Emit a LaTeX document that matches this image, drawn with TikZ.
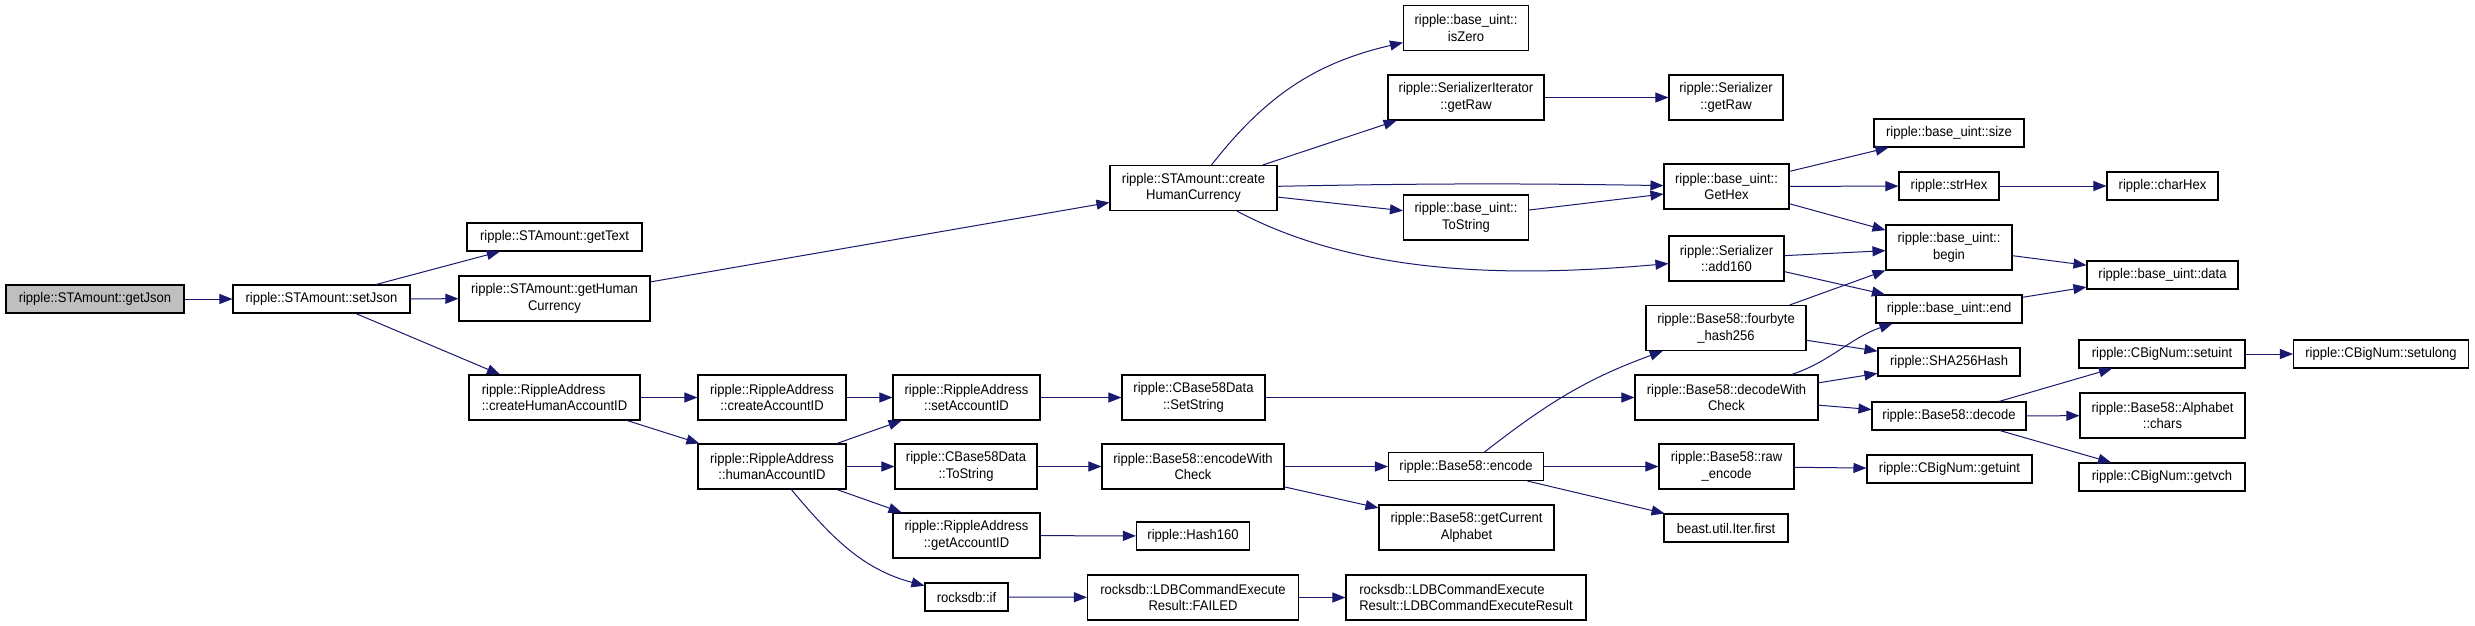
\documentclass[tikz,border=0pt]{standalone}
\usepackage{fontspec}
\setmainfont{Liberation Sans}
\newfontfamily\doxfont[FakeStretch=0.93]{Liberation Sans}
\usetikzlibrary{arrows.meta,calc}
\definecolor{edgeblue}{HTML}{191970}
\definecolor{hlgray}{HTML}{BFBFBF}
\tikzset{
  fnbox/.style={draw=black,line width=1.1pt,fill=white,inner sep=0pt,
    font=\doxfont\fontsize{14}{16.7}\selectfont,align=center},
  boxone/.style={fnbox,minimum height=28pt},
  boxtwo/.style={fnbox,minimum height=45pt},
  curfn/.style={fill=hlgray},
  callarrow/.style={draw=edgeblue,line width=1pt,-{Triangle[length=13pt,width=10pt]}}
}
\begin{document}
\begin{tikzpicture}[x=1pt,y=-1pt]
\useasboundingbox (0,0) rectangle (2475,625);
\fill[white] (0,0) rectangle (2475,625);
% column 1-2
\node[boxone,curfn,minimum width=178pt] (getJson) at (95,299) {ripple::STAmount::getJson};
\node[boxone,minimum width=177pt] (setJson) at (321.5,299) {ripple::STAmount::setJson};
\node[boxone,minimum width=175pt] (getText) at (554.5,237) {ripple::STAmount::getText};
\node[boxtwo,minimum width=191pt] (getHuman) at (554.5,298.5) {ripple::STAmount::getHuman\\Currency};
\node[boxtwo,minimum width=171pt,align=left] (cHAID) at (554.5,397.5) {ripple::RippleAddress\\::createHumanAccountID};
% column 3
\node[boxtwo,minimum width=148pt] (cAID) at (772,397.5) {ripple::RippleAddress\\::createAccountID};
\node[boxtwo,minimum width=148pt] (hAID) at (772,466.5) {ripple::RippleAddress\\::humanAccountID};
% column 4
\node[boxtwo,minimum width=147pt] (sAID) at (966.5,397.5) {ripple::RippleAddress\\::setAccountID};
\node[boxtwo,minimum width=142pt] (cbToStr) at (966,466.5) {ripple::CBase58Data\\::ToString};
\node[boxtwo,minimum width=147pt] (gAID) at (966.5,535.5) {ripple::RippleAddress\\::getAccountID};
\node[boxone,minimum width=83pt] (rif) at (966.5,597) {rocksdb::if};
% column 5
\node[boxtwo,minimum width=167pt] (cHC) at (1193.5,188) {ripple::STAmount::create\\HumanCurrency};
\node[boxtwo,minimum width=143pt] (setStr) at (1193.5,397.5) {ripple::CBase58Data\\::SetString};
\node[boxtwo,minimum width=182pt] (encWC) at (1193,466.5) {ripple::Base58::encodeWith\\Check};
\node[boxone,minimum width=113pt] (hash160) at (1193,536) {ripple::Hash160};
\node[boxtwo,minimum width=211pt] (failed) at (1193,597.5) {rocksdb::LDBCommandExecute\\Result::FAILED};
% column 6
\node[boxtwo,minimum width=125pt] (isZero) at (1466,28) {ripple::base\_uint::\\isZero};
\node[boxtwo,minimum width=156pt] (siGetRaw) at (1466,97.5) {ripple::SerializerIterator\\::getRaw};
\node[boxtwo,minimum width=125pt] (buToStr) at (1466,217.5) {ripple::base\_uint::\\ToString};
\node[boxone,minimum width=155pt] (encode) at (1466,466.5) {ripple::Base58::encode};
\node[boxtwo,minimum width=175pt] (getCurAlpha) at (1466.5,527.5) {ripple::Base58::getCurrent\\Alphabet};
\node[boxtwo,minimum width=240pt,align=left] (ldbRes) at (1466,597.5) {rocksdb::LDBCommandExecute\\Result::LDBCommandExecuteResult};
% column 7
\node[boxtwo,minimum width=114pt] (sGetRaw) at (1726,97.5) {ripple::Serializer\\::getRaw};
\node[boxtwo,minimum width=125pt] (getHex) at (1726.5,186.5) {ripple::base\_uint::\\GetHex};
\node[boxtwo,minimum width=115pt] (add160) at (1726.5,258.5) {ripple::Serializer\\::add160};
\node[boxtwo,minimum width=160pt] (fourbyte) at (1726,328) {ripple::Base58::fourbyte\\\_hash256};
\node[boxtwo,minimum width=183pt] (decWC) at (1726.5,397.5) {ripple::Base58::decodeWith\\Check};
\node[boxtwo,minimum width=135pt] (rawEnc) at (1726.5,466.5) {ripple::Base58::raw\\\_encode};
\node[boxone,minimum width=124pt] (iterFirst) at (1726,528) {beast.util.Iter.first};
% column 8
\node[boxone,minimum width=150pt] (uSize) at (1949,133) {ripple::base\_uint::size};
\node[boxone,minimum width=100pt] (strHex) at (1949,186) {ripple::strHex};
\node[boxtwo,minimum width=126pt] (uBegin) at (1949,247.5) {ripple::base\_uint::\\begin};
\node[boxone,minimum width=146pt] (uEnd) at (1949,309) {ripple::base\_uint::end};
\node[boxone,minimum width=142pt] (sha) at (1949,362) {ripple::SHA256Hash};
\node[boxone,minimum width=154pt] (decode) at (1949,416) {ripple::Base58::decode};
\node[boxone,minimum width=165pt] (getuint) at (1949.5,469) {ripple::CBigNum::getuint};
% column 9
\node[boxone,minimum width=111pt] (charHex) at (2162.5,186) {ripple::charHex};
\node[boxone,minimum width=151pt] (uData) at (2162.5,275) {ripple::base\_uint::data};
\node[boxone,minimum width=166pt] (setuint) at (2162,354) {ripple::CBigNum::setuint};
\node[boxtwo,minimum width=165pt] (chars) at (2162.5,415.5) {ripple::Base58::Alphabet\\::chars};
\node[boxone,minimum width=166pt] (getvch) at (2162,477) {ripple::CBigNum::getvch};
% column 10
\node[boxone,minimum width=175pt] (setulong) at (2381,354) {ripple::CBigNum::setulong};

% edges
\draw[callarrow] (getJson) -- (setJson);
\draw[callarrow] (setJson) -- (getText);
\draw[callarrow] (setJson) -- (getHuman);
\draw[callarrow] (setJson) -- (cHAID);
\draw[callarrow] (getHuman) -- (cHC);
\draw[callarrow] (cHAID) -- (cAID);
\draw[callarrow] (cHAID) -- (hAID);
\draw[callarrow] (cAID) -- (sAID);
\draw[callarrow] (hAID) -- (sAID);
\draw[callarrow] (hAID) -- (cbToStr);
\draw[callarrow] (hAID) -- (gAID);
\draw[callarrow] (hAID) to[out=-50,in=165] (rif);
\draw[callarrow] (sAID) -- (setStr);
\draw[callarrow] (setStr) -- (decWC);
\draw[callarrow] (cbToStr) -- (encWC);
\draw[callarrow] (encWC) -- (encode);
\draw[callarrow] (encWC) -- (getCurAlpha);
\draw[callarrow] (gAID) -- (hash160);
\draw[callarrow] (rif) -- (failed);
\draw[callarrow] (failed) -- (ldbRes);
\draw[callarrow] (cHC) to[out=52,in=193] (isZero);
\draw[callarrow] (cHC) -- (siGetRaw);
\draw[callarrow] (cHC) to[bend left=1] (getHex);
\draw[callarrow] (cHC) -- (buToStr);
\draw[callarrow] (cHC) to[out=-28,in=185,looseness=0.85] (add160);
\draw[callarrow] (siGetRaw) -- (sGetRaw);
\draw[callarrow] (buToStr) -- (getHex);
\draw[callarrow] (getHex) -- (uSize);
\draw[callarrow] (getHex) -- (strHex);
\draw[callarrow] (getHex) -- (uBegin);
\draw[callarrow] (strHex) -- (charHex);
\draw[callarrow] (add160) -- (uBegin);
\draw[callarrow] (add160) -- (uEnd);
\draw[callarrow] (fourbyte) -- (uBegin);
\draw[callarrow] (fourbyte) -- (sha);
\draw[callarrow] ($(decWC.north east)+(-27,0)$) .. controls (1830,362) and (1850,338) .. ($(uEnd.south west)+(17,0)$);
\draw[callarrow] (decWC) -- (sha);
\draw[callarrow] (decWC) -- (decode);
\draw[callarrow] (encode) to[out=38,in=200] (fourbyte);
\draw[callarrow] (encode) -- (rawEnc);
\draw[callarrow] (encode) -- (iterFirst);
\draw[callarrow] (rawEnc) -- (getuint);
\draw[callarrow] (decode) -- (setuint);
\draw[callarrow] (decode) -- (chars);
\draw[callarrow] (decode) -- (getvch);
\draw[callarrow] (setuint) -- (setulong);
\draw[callarrow] (uBegin) -- (uData);
\draw[callarrow] (uEnd) -- (uData);
\end{tikzpicture}
\end{document}
